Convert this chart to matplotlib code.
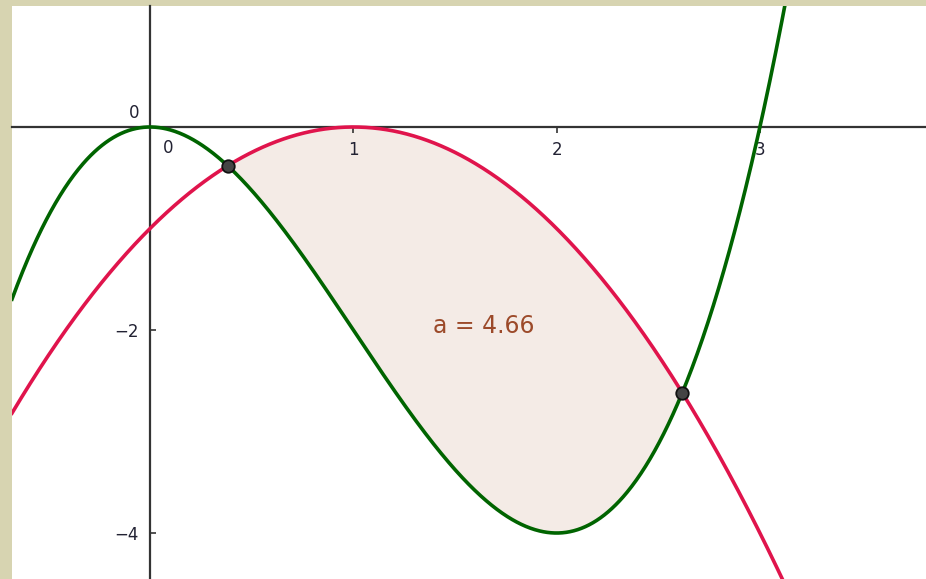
import numpy as np
import matplotlib.pyplot as plt

# polynomial coefficients, highest power first
f_coef = [1, -3, 0, 0]      # f(x) = x^3 - 3x^2   (green)
g_coef = [-1, 2, -1]        # g(x) = -(x - 1)^2   (red)

x_ticks = [1, 2, 3]
y_ticks = [-2, -4]

x_min, x_max = -0.679, 3.817
y_min, y_max = -4.453, 1.192

# intersections of f and g bound the shaded region
diff = np.polysub(g_coef, f_coef)
roots = np.sort(np.real(np.roots(diff)))
x1, x2 = roots[roots > 0][:2]
anti = np.polyint(diff)
area = np.polyval(anti, x2) - np.polyval(anti, x1)

fig = plt.figure(figsize=(9.26, 5.79), dpi=100)
fig.patch.set_facecolor("#d7d4b1")
ax = fig.add_axes([12 / 926, 0, 914 / 926, 573 / 579])
ax.set_facecolor("white")
ax.set_xlim(x_min, x_max)
ax.set_ylim(y_min, y_max)

for s in ["top", "right"]:
    ax.spines[s].set_visible(False)
ax.spines["left"].set_position(("data", 0))
ax.spines["bottom"].set_position(("data", 0))
for s in ["left", "bottom"]:
    ax.spines[s].set_color("#333333")
    ax.spines[s].set_linewidth(1.6)
    ax.spines[s].set_zorder(2.5)

ax.set_xticks(x_ticks)
ax.set_yticks(y_ticks)
ax.set_xticklabels([str(v) for v in x_ticks])
ax.set_yticklabels(["\u2212" + str(-v) for v in y_ticks])
ax.tick_params(axis="x", direction="out", length=4, width=1.2, color="#333333",
               labelsize=12, labelcolor="#222233", pad=6)
ax.tick_params(axis="y", direction="in", length=4, width=1.2, color="#333333",
               labelsize=12, labelcolor="#222233", pad=8)
# keep tick labels above the shaded region
ax.xaxis.set_zorder(2.5)
ax.yaxis.set_zorder(2.5)
ax.text(-0.05, 0.05, "0", ha="right", va="bottom", fontsize=12, color="#222233")
ax.text(0.065, -0.12, "0", ha="left", va="top", fontsize=12, color="#222233")

xs = np.linspace(x_min, x_max, 1200)
xf = np.linspace(x1, x2, 600)
ax.fill_between(xf, np.polyval(f_coef, xf), np.polyval(g_coef, xf),
                color="#f4ebe6", lw=0, zorder=2)
ax.plot(xs, np.polyval(g_coef, xs), color="#e0144c", lw=2.6, zorder=3)
ax.plot(xs, np.polyval(f_coef, xs), color="#006400", lw=2.6, zorder=4)

ax.plot([x1, x2], np.polyval(f_coef, [x1, x2]), "o", ms=9, mfc="#444444",
        mec="#111111", mew=1.3, zorder=5)

ax.text(1.64, -1.96, f"a = {area:.2f}", fontsize=17, color="#9c4a2a",
        ha="center", va="center", zorder=6)

fig.savefig("out.png", dpi=100, facecolor=fig.get_facecolor())
